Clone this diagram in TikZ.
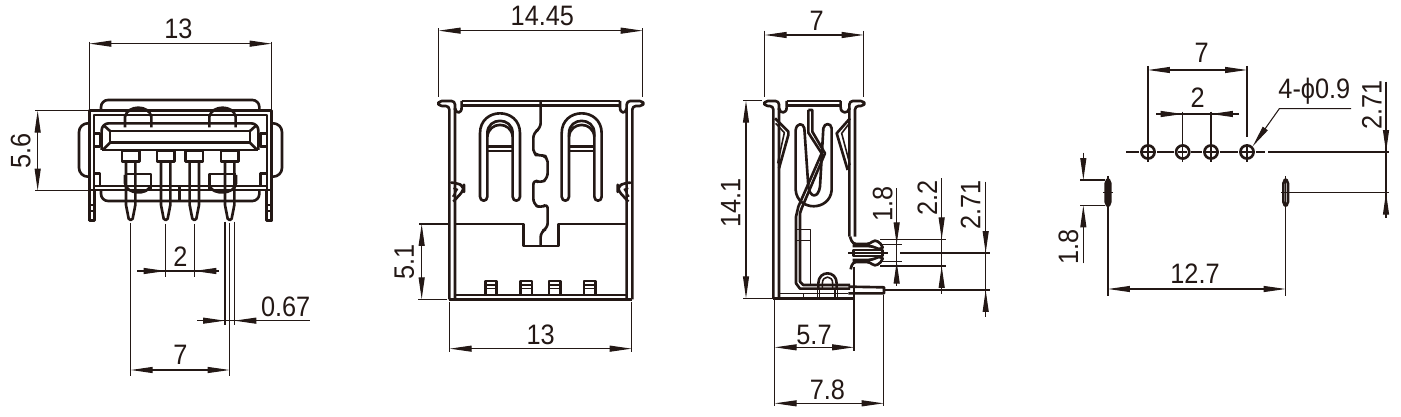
\documentclass[tikz,border=0pt]{standalone}
\usepackage{fontspec}
\setmainfont[FakeStretch=0.9]{Liberation Sans}
\usetikzlibrary{arrows.meta}
\definecolor{inkdark}{HTML}{231815}
\tikzset{
  bodyline/.style={line width=1.5pt, line join=round},
  midline/.style={line width=0.9pt, line join=round},
  thinline/.style={line width=0.6pt},
  dimline/.style={thinline, {Triangle[length=12.5pt,width=3.4pt]}-{Triangle[length=12.5pt,width=3.4pt]}},
  dimright/.style={thinline, -{Triangle[length=12.5pt,width=3.4pt]}},
  dimtext/.style={font=\fontsize{16}{16}\selectfont, inner sep=0pt, text=inkdark},
  dimvert/.style={dimtext, rotate=90},
}
\begin{document}
\begin{tikzpicture}[x=0.0066667cm, y=-0.0066667cm, color=inkdark]
  \useasboundingbox (0,0) rectangle (4203,1251);

  %---- front view
  \begin{scope}
    % shell
    \draw[bodyline] (268,662) -- (268,332) -- (815,332) -- (815,662);
    \draw[bodyline] (282,570) -- (282,345) -- (801,345) -- (801,570);
    \draw[bodyline] (268,570) -- (815,570);
    \draw[midline] (282,558) -- (801,558);
    \draw[bodyline, rounded corners=4pt] (303,332) -- (303,300) -- (778,300) -- (778,332);
    \draw[bodyline, rounded corners=4pt] (303,570) -- (303,603) -- (778,603) -- (778,570);
    % side tabs
    \draw[bodyline, rounded corners=5pt] (268,370) -- (237,370) -- (237,530) -- (268,530);
    \draw[bodyline, rounded corners=5pt] (815,370) -- (846,370) -- (846,530) -- (815,530);
    \draw[bodyline] (282,400) -- (300,400) -- (300,440) -- (282,440);
    \draw[bodyline] (801,400) -- (781,400) -- (781,440) -- (801,440);
    \draw[bodyline] (282,520) -- (300,520) -- (300,558) (781,558) -- (781,520) -- (801,520);
    % legs
    \foreach \ox in {268,800} {
      \draw[bodyline] (\ox,570) -- (\ox,662) -- (\ox+16,662) -- (\ox+16,570);
      \draw[midline] (\ox,615) -- (\ox+16,615) (\ox,633) -- (\ox+16,633);
    }
    % tongue
    \draw[bodyline, rounded corners=4pt] (305,450) -- (305,370) -- (775,370) -- (775,450);
    \draw[bodyline] (305,450) -- (775,450);
    \draw[bodyline] (330,393) rectangle (750,428);
    \draw[bodyline] (310,375) -- (330,393) (310,448) -- (330,428) (770,375) -- (750,393) (770,448) -- (750,428);
    % contact loops
    \foreach \lx in {375,628} {
      \draw[bodyline] (\lx,382) -- (\lx,350) .. controls (\lx+8,314) and (\lx+72,314) .. (\lx+79,350) -- (\lx+79,382);
    }
    % lower loops
    \draw[bodyline] (375,525) -- (375,550) .. controls (378,585) and (445,585) .. (450,558);
    \draw[bodyline] (375,522) -- (453,522) -- (453,570);
    \draw[bodyline] (708,525) -- (708,550) .. controls (705,585) and (635,585) .. (630,558);
    \draw[bodyline] (708,522) -- (628,522) -- (628,570);
    \draw[bodyline] (538,558) -- (538,603);
    % pins
    \foreach \px in {392,497,583,689} {
      \draw[bodyline] (\px-26,485) rectangle (\px+26,453);
      \draw[bodyline] (\px-14,485) -- (\px-14,615) -- (\px-6,656) .. controls (\px-3,662) and (\px+3,662) .. (\px+6,656) -- (\px+14,615) -- (\px+14,485);
    }
    % dimensions
    \draw[dimline] (268,131) -- (815,131);
    \draw[thinline] (268,125) -- (268,332) (815,125) -- (815,332);
    \node[dimtext] (wtext) at (535,87) {13};
    \draw[thinline] (105,332) -- (268,332) (105,572) -- (268,572);
    \draw[dimline] (113,332) -- (113,572);
    \node[dimvert] (htext) at (62,452) {5.6};
    \draw[thinline] (392,668) -- (392,1127) (497,672) -- (497,830) (583,672) -- (583,830);
    \draw[thinline] (689,668) -- (689,1127) (675,665) -- (675,975) (703,665) -- (703,975);
    \draw[thinline] (412,813) -- (657,813);
    \draw[dimright] (412,813) -- (497,813);
    \draw[dimright] (657,813) -- (583,813);
    \node[dimtext] (ptext) at (541,770) {2};
    \draw[thinline] (592,962) -- (930,962);
    \draw[dimright] (592,962) -- (675,962);
    \draw[dimright] (775,962) -- (703,962);
    \node[dimtext] (ttext) at (857,920) {0.67};
    \draw[dimline] (392,1110) -- (689,1110);
    \node[dimtext] (stext) at (541,1065) {7};
  \end{scope}

  %---- side view
  \begin{scope}[shift={(1140,0)}]
    % shell
    \draw[bodyline, rounded corners=2pt] (208,898) -- (208,318) -- (175,318) -- (175,303) -- (225,303) -- (225,330);
    \draw[bodyline] (225,898) -- (225,325) .. controls (228,342) and (245,342) .. (245,322) -- (245,303);
    \draw[bodyline, rounded corners=2pt] (757,898) -- (757,318) -- (790,318) -- (790,303) -- (740,303) -- (740,330);
    \draw[bodyline] (740,898) -- (740,325) .. controls (737,342) and (720,342) .. (720,322) -- (720,303);
    \draw[bodyline] (245,303) -- (720,303);
    \draw[bodyline] (245,317) -- (720,317);
    \draw[bodyline] (208,898) -- (757,898);
    \draw[midline] (225,885) -- (740,885);
    % latches
    \draw[bodyline, rounded corners=3pt] (215,548) -- (230,548) -- (252,560) -- (252,570) -- (220,605);
    \draw[midline] (220,565) -- (232,568) -- (218,590);
    \draw[bodyline, rounded corners=3pt] (750,548) -- (735,548) -- (713,560) -- (713,570) -- (745,605);
    \draw[midline] (745,565) -- (733,568) -- (747,590);
    % spring slots
    \foreach \sx in {300,545} {
      \draw[bodyline] (\sx,590) -- (\sx,400) .. controls (\sx,320) and (\sx+120,320) .. (\sx+120,400) -- (\sx+120,590) .. controls (\sx+120,606) and (\sx+98,606) .. (\sx+98,590) -- (\sx+98,400) .. controls (\sx+98,350) and (\sx+22,350) .. (\sx+22,400) -- (\sx+22,590) .. controls (\sx+22,606) and (\sx,606) .. (\sx,590) -- cycle;
      \draw[bodyline] (\sx+22,410) .. controls (\sx+26,363) and (\sx+94,363) .. (\sx+98,410);
      \draw[bodyline] (\sx+22,440) -- (\sx+98,440) (\sx+22,453) -- (\sx+98,453);
    }
    % seam
    \draw[bodyline, rounded corners=3pt] (482,303) -- (482,385) -- (460,398) -- (460,465) -- (482,465) -- (503,470) -- (503,535) -- (482,550) -- (460,538) -- (460,612) -- (482,625) -- (503,610) -- (503,685) -- (482,695) -- (482,738);
    \draw[bodyline] (225,672) -- (430,672) -- (430,738) -- (535,738) -- (535,672) -- (740,672);
    % pin stubs
    \foreach \px in {333,439,524,629} {
      \draw[bodyline] (\px-17,885) -- (\px-17,843) -- (\px+17,843) -- (\px+17,885);
      \draw[midline] (\px-17,855) -- (\px+17,855) (\px-17,866) -- (\px+17,866);
    }
    % dimensions
    \draw[dimline] (176,92) -- (788,92);
    \draw[thinline] (176,85) -- (176,292) (788,85) -- (788,292);
    \node[dimtext] (ptwtext) at (487,48) {14.45};
    \draw[thinline] (118,672) -- (208,672) (115,898) -- (200,898);
    \draw[dimline] (125,672) -- (125,898);
    \node[dimvert] (phtext) at (73,785) {5.1};
    \draw[thinline] (209,905) -- (209,1055) (755,905) -- (755,1055);
    \draw[dimline] (209,1046) -- (755,1046);
    \node[dimtext] (pbtext) at (482,1003) {13};
  \end{scope}

  %---- profile view
  \begin{scope}[shift={(2100,0)}]
    % shell
    \draw[bodyline, rounded corners=2pt] (220,895) -- (220,318) -- (193,318) -- (193,303) -- (237,303) -- (237,330);
    \draw[bodyline] (237,895) -- (237,325) .. controls (240,342) and (260,342) .. (260,322) -- (260,303);
    \draw[bodyline, rounded corners=2pt] (465,710) -- (465,318) -- (493,318) -- (493,303) -- (448,303) -- (448,330);
    \draw[bodyline] (448,710) -- (448,325) .. controls (445,342) and (422,342) .. (422,322) -- (422,303);
    \draw[bodyline] (260,303) -- (422,303) (260,317) -- (422,317);
    \draw[bodyline] (220,895) -- (462,895);
    \draw[midline] (237,880) -- (445,880);
    \draw[bodyline] (462,800) -- (462,915);
    % springs
    \draw[bodyline] (225,355) -- (265,395) -- (265,405) -- (237,505);
    \draw[midline] (227,370) -- (253,398) -- (233,490);
    \draw[bodyline] (450,355) -- (410,400) -- (443,510);
    \draw[midline] (448,370) -- (425,400) -- (450,495);
    % contact
    \draw[bodyline] (287,390) .. controls (290,368) and (310,368) .. (313,385) -- (325,560) .. controls (330,595) and (355,595) .. (360,560) -- (370,385) .. controls (373,368) and (393,368) .. (395,385) -- (395,570) .. controls (390,635) and (292,635) .. (287,570) -- cycle;
    % pin
    \draw[bodyline] (325,330) -- (337,330) -- (337,395) -- (375,460) -- (305,625) -- (300,640) -- (300,845) -- (310,855) -- (450,855);
    \draw[bodyline] (325,330) -- (325,398) -- (365,460) -- (295,620) -- (288,650) -- (288,850) -- (300,866) -- (450,866);
    \draw[midline] (288,688) -- (332,688) -- (332,855) (288,722) -- (332,722);
    % loop
    \draw[bodyline] (355,866) -- (355,850) .. controls (355,810) and (410,810) .. (410,850) -- (410,866);
    \draw[midline] (367,866) -- (367,850) .. controls (367,825) and (398,825) .. (398,850) -- (398,866);
    \draw[midline] (352,866) -- (352,895) (358,866) -- (358,895) (405,866) -- (405,895) (412,866) -- (412,895) (310,880) -- (310,895);
    % tail
    \draw[bodyline] (445,860) -- (552,862) -- (552,880) -- (445,880);
    % clips
    \draw[bodyline, rounded corners=2pt] (450,710) -- (458,732) -- (510,732) -- (525,718) -- (550,738) -- (543,750) -- (525,742) -- (510,738) -- (458,738);
    \draw[bodyline, rounded corners=2pt] (452,808) -- (458,786) -- (510,786) -- (525,800) -- (550,780) -- (543,768) -- (525,776) -- (510,780) -- (458,780);
    \draw[bodyline] (460,750) rectangle (548,768);
    % dimensions
    \draw[dimline] (194,105) -- (491,105);
    \draw[thinline] (194,92) -- (194,290) (491,92) -- (491,290);
    \node[dimtext] (dwtext) at (350,62) {7};
    \draw[thinline] (130,302) -- (185,302) (130,895) -- (220,895);
    \draw[dimline] (138,302) -- (138,895);
    \node[dimvert] (dhtext) at (92,610) {14.1};
    \draw[thinline] (540,718) -- (737,718) (540,733) -- (605,733) (600,759) -- (870,759) (445,759) -- (565,759) (540,785) -- (605,785) (540,798) -- (737,798) (552,870) -- (870,870);
    \draw[thinline] (590,565) -- (590,858);
    \draw[dimright] (590,660) -- (590,733);
    \draw[dimright] (590,858) -- (590,785);
    \node[dimvert] (dgtext) at (548,612) {1.8};
    \draw[thinline] (725,535) -- (725,882);
    \draw[dimright] (725,655) -- (725,718);
    \draw[dimright] (725,870) -- (725,798);
    \node[dimvert] (detext) at (682,595) {2.2};
    \draw[thinline] (857,545) -- (857,952);
    \draw[dimright] (857,690) -- (857,759);
    \draw[dimright] (857,940) -- (857,870);
    \node[dimvert] (drtext) at (812,615) {2.71};
    \draw[thinline] (224,895) -- (224,1218) (551,885) -- (551,1218);
    \draw[dimline] (224,1042) -- (462,1042);
    \draw[thinline] (462,915) -- (462,1052);
    \node[dimtext] (dftext) at (342,1005) {5.7};
    \draw[dimline] (224,1210) -- (551,1210);
    \node[dimtext] (dstext) at (382,1170) {7.8};
  \end{scope}

  %---- footprint
  \begin{scope}[shift={(3120,60)}]
    % holes
    \draw[thinline] (258,396) -- (298,396) (352,396) -- (402,396) (454,396) -- (487,396) (539,396) -- (595,396) (647,396) -- (675,396) (685,396) -- (1048,396);
    \foreach \hx/\hname in {324/ha,428/hb,513/hc,621/hd} {
      \node[circle, draw, line width=1.5pt, minimum size=7.5pt, inner sep=0pt] (\hname) at (\hx,396) {};
      \draw[thinline] (\hx,380) -- (\hx,425);
      \draw[thinline] (\hx-14,396) -- (\hx+14,396);
    }
    % slots
    \foreach \tx/\tname in {204/sa,737/sb} {
      \draw[bodyline, rounded corners=2pt] (\tx-7,480) rectangle (\tx+7,556);
      \draw[thinline] (\tx,468) -- (\tx,570) (\tx-14,518) -- (\tx+14,518);
      \coordinate (\tname) at (\tx,556);
    }
    % dimensions
    \draw[thinline] (324,138) -- (ha.north) (621,138) -- (621,352);
    \draw[dimline] (324,150) -- (621,150);
    \node[dimtext] (fstext) at (485,98) {7};
    \draw[thinline] (428,275) -- (hb.north) (513,275) -- (hc.north);
    \draw[thinline] (348,282) -- (597,282);
    \draw[dimright] (348,282) -- (428,282);
    \draw[dimright] (597,282) -- (513,282);
    \node[dimtext] (fptext) at (473,233) {2};
    \node[dimtext] (fdtext) at (823,215) {4-ϕ0.9};
    \draw[dimright] (933,266) -- (718,266) -- (hd.north east);
    \draw[thinline] (1038,185) -- (1038,595);
    \draw[dimright] (1038,330) -- (1038,396);
    \draw[dimright] (1038,580) -- (1038,518);
    \draw[thinline] (750,518) -- (1048,518);
    \node[dimvert] (frtext) at (995,255) {2.71};
    \draw[thinline] (120,480) -- (195,480) (120,556) -- (195,556);
    \draw[dimright] (130,398) -- (130,480);
    \draw[dimright] (130,730) -- (130,556);
    \node[dimvert] (fgtext) at (85,680) {1.8};
    \draw[thinline] (sa) -- (204,827) (sb) -- (737,827);
    \draw[dimline] (204,807) -- (737,807);
    \node[dimtext] (fltext) at (465,760) {12.7};
  \end{scope}
\end{tikzpicture}
\end{document}
